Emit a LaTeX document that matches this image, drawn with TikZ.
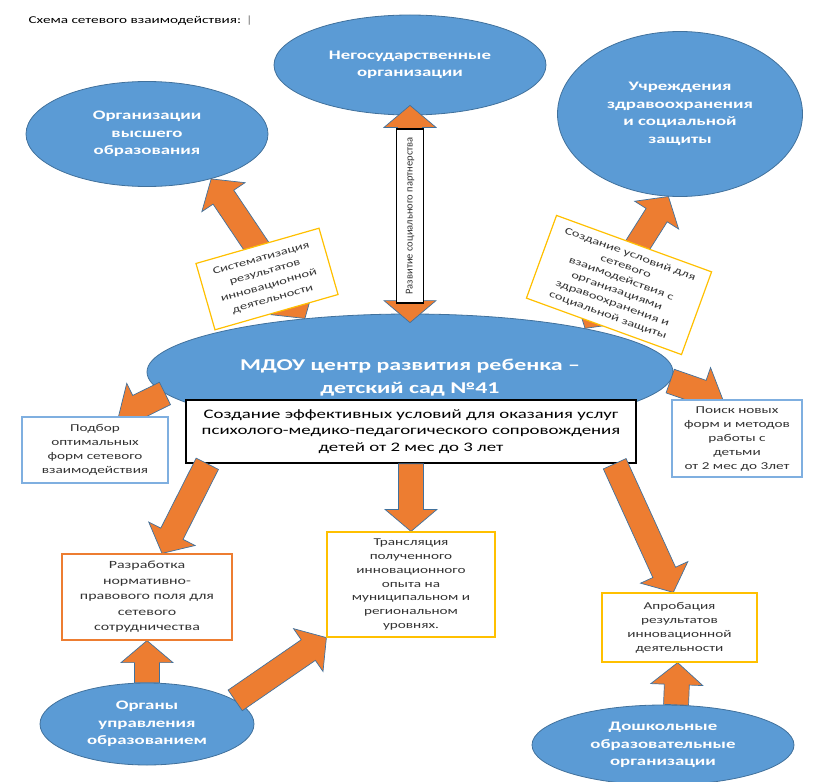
\documentclass[tikz,border=0pt]{standalone}
\usepackage{fontspec}
\setmainfont{Carlito}[FakeStretch=1.45]
\newfontfamily\narrowfont{Carlito}
\usetikzlibrary{calc,shapes.geometric,positioning}
\pgfdeclarelayer{ovals}
\pgfdeclarelayer{links}
\pgfsetlayers{ovals,links,main}
\definecolor{ovalblue}{HTML}{5B9BD5}
\definecolor{ovalline}{HTML}{41719C}
\definecolor{arroworange}{HTML}{ED7D31}
\definecolor{boxgold}{HTML}{FFC000}
\definecolor{boxblue}{HTML}{7FAFE0}
\tikzset{%
    oval/.style={ellipse,fill=ovalblue,draw=ovalline,line width=0.8pt,inner sep=0pt,
        text=white,align=center,font=\fontsize{13}{17.5}\selectfont\bfseries},%
    goalbox/.style={rectangle,draw=black,line width=1.5pt,fill=white,align=center,
        inner sep=0pt,font=\fontsize{13}{16.5}\selectfont},%
    infobox/.style={rectangle,fill=white,line width=1.2pt,align=center,inner sep=0pt,
        text=black!80,font=\fontsize{10.5}{14}\selectfont},%
    tagbox/.style={infobox,draw=boxgold},%
    partnerbox/.style={rectangle,draw=black,line width=1.5pt,fill=white,inner sep=0pt,
        text=black!80,font=\narrowfont\fontsize{10.5}{11}\selectfont},%
    barrow/.style={fill=arroworange,draw=ovalline,line width=0.7pt,line join=miter}%
}
% block arrow, tail #1, tip #2
\newcommand{\BA}[2]{%
    \coordinate (hd) at ($(#2)!22pt!(#1)$);
    \draw[barrow] ($(#1)!12.5pt!90:(#2)$) -- ($(hd)!12.5pt!90:(#2)$) -- ($(hd)!26pt!90:(#2)$)
      -- (#2) -- ($(hd)!26pt!-90:(#2)$) -- ($(hd)!12.5pt!-90:(#2)$) -- ($(#1)!12.5pt!-90:(#2)$) -- cycle;
}
% block arrow with two heads
\newcommand{\DBA}[2]{%
    \coordinate (ha) at ($(#1)!22pt!(#2)$);
    \coordinate (hb) at ($(#2)!22pt!(#1)$);
    \draw[barrow] (#1) -- ($(ha)!26pt!90:(#2)$) -- ($(ha)!12.5pt!90:(#2)$) -- ($(hb)!12.5pt!90:(#2)$)
      -- ($(hb)!26pt!90:(#2)$) -- (#2) -- ($(hb)!26pt!-90:(#2)$) -- ($(hb)!12.5pt!-90:(#2)$)
      -- ($(ha)!12.5pt!-90:(#2)$) -- ($(ha)!26pt!-90:(#2)$) -- cycle;
}
\begin{document}
\begin{tikzpicture}[x=1pt,y=-1pt]
    \useasboundingbox (0,0) rectangle (813,781);
    \node[anchor=west,font=\fontsize{10.5}{12}\selectfont] (title) at (25,21) {Схема сетевого взаимодействия: \textcolor{gray}{|}};
    % partners
    \begin{pgfonlayer}{ovals}
    \node[oval,minimum width=272,minimum height=100] (ngo) at (410,65) {Негосударственные\\организации};
    \node[oval,minimum width=242,minimum height=105] (vuz) at (147,134) {Организации\\высшего\\образования};
    \node[oval,minimum width=245,minimum height=165] (health) at (680,114) {Учреждения\\здравоохранения\\и социальной\\защиты};
    \node[oval,minimum width=526,minimum height=116,
        label={[text=white,align=center,yshift=-6pt,font=\fontsize{16.5}{23}\selectfont\bfseries]center:МДОУ центр развития ребенка –\\детский сад №41}] (mdou) at (410,372) {};
    \node[oval,minimum width=214,minimum height=82] (organy) at (147,724) {Органы\\управления\\образованием};
    \node[oval,minimum width=262,minimum height=80] (dou) at (663,745) {Дошкольные\\образовательные\\организации};
    \node[goalbox,minimum width=450,minimum height=63] (goal) at (411,431.5) {Создание эффективных условий для оказания услуг\\психолого-медико-педагогического сопровождения\\детей от 2 мес до 3 лет};
    \end{pgfonlayer}
    % results
    \node[infobox,draw=boxblue,minimum width=146,minimum height=66] (podbor) at (95,450) {Подбор\\оптимальных\\форм сетевого\\взаимодействия};
    \node[infobox,draw=boxblue,minimum width=130,minimum height=77] (poisk) at (737,438.5) {Поиск новых\\форм и методов\\работы с\\детьми\\от 2 мес до 3лет};
    \node[infobox,draw=arroworange,minimum width=170,minimum height=86,font=\fontsize{11}{15.5}\selectfont] (razrab) at (147,597) {Разработка\\нормативно-\\правового поля для\\сетевого\\сотрудничества};
    \node[tagbox,minimum width=168,minimum height=105,font=\fontsize{10.5}{13.8}\selectfont] (transl) at (411,584.5) {Трансляция\\полученного\\инновационного\\опыта на\\муниципальном и\\региональном\\уровнях.};
    \node[tagbox,minimum width=155,minimum height=69] (aprob) at (679.5,627.5) {Апробация\\результатов\\инновационной\\деятельности};
    % labels on the links
    \node[tagbox,rotate=16,minimum width=128,minimum height=69,font=\fontsize{10}{14}\selectfont] (sist) at (267,279) {Систематизация\\результатов\\инновационной\\деятельности};
    \node[partnerbox,rotate=90,minimum width=174,minimum height=27] (partner) at (410,216) {Развитие социального партнерства};
    \node[tagbox,rotate=-20,minimum width=165,minimum height=88,font=\fontsize{10}{13}\selectfont] (hlink) at (619,285) {Создание условий для\\сетевого\\взаимодействия с\\организациями\\здравоохранения и\\социальной защиты};
    % arrows
    \begin{pgfonlayer}{links}
    \coordinate (ngo-in) at ([yshift=10pt]ngo.south);
    \coordinate (mdou-in) at ([yshift=-9pt]mdou.north);
    \DBA{mdou.153}{vuz.-35}
    \DBA{mdou-in}{ngo-in}
    \DBA{mdou.14}{health.-98}
    \BA{mdou.185}{podbor.55}
    \BA{mdou.-2}{poisk.110}
    \BA{goal.189}{razrab.71}
    \BA{goal.south}{transl.north}
    \BA{goal.-9.5}{aprob.100}
    \BA{organy.north}{razrab.south}
    \BA{organy.15}{transl.south west}
    \BA{dou.72}{aprob.-93}
    \end{pgfonlayer}
\end{tikzpicture}
\end{document}
